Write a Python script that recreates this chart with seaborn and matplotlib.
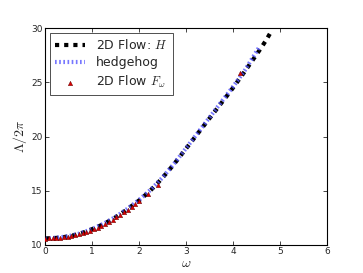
import numpy as np
import pandas as pd
import matplotlib
matplotlib.use("Agg")
import matplotlib.pyplot as plt
import seaborn as sns

# 2D Flow: H (black dotted)
omega_h = [0.0, 0.1, 0.2, 0.3, 0.4, 0.5, 0.6, 0.7, 0.8, 0.9,
           1.0, 1.1, 1.2, 1.3, 1.4, 1.5, 1.6, 1.7, 1.8, 1.9,
           2.0, 2.1, 2.2, 2.3, 2.4, 2.5, 2.6, 2.7, 2.8, 2.9,
           3.0, 3.1, 3.2, 3.3, 3.4, 3.5, 3.6, 3.7, 3.8, 3.9,
           4.0, 4.1, 4.2, 4.3, 4.4, 4.5, 4.6, 4.7, 4.8, 4.83]
lam_h = [10.60, 10.61, 10.63, 10.67, 10.72, 10.79, 10.88, 10.99, 11.12, 11.28,
         11.45, 11.63, 11.83, 12.05, 12.29, 12.55, 12.83, 13.13, 13.45, 13.77,
         14.10, 14.46, 14.85, 15.27, 15.72, 16.20, 16.70, 17.22, 17.76, 18.32,
         18.88, 19.44, 20.00, 20.56, 21.12, 21.68, 22.24, 22.80, 23.36, 23.92,
         24.50, 25.10, 25.70, 26.32, 26.94, 27.56, 28.20, 28.86, 29.60, 29.80]

# hedgehog (blue dotted)
omega_hh = [0.0, 0.25, 0.5, 0.75, 1.0, 1.25, 1.5, 1.75, 2.0, 2.25,
            2.5, 2.75, 3.0, 3.25, 3.5, 3.75, 4.0, 4.25, 4.55]
lam_hh = [10.60, 10.66, 10.80, 11.06, 11.46, 11.96, 12.58, 13.32, 14.15, 15.10,
          16.22, 17.52, 18.92, 20.34, 21.76, 23.18, 24.60, 26.10, 28.20]

# 2D Flow F_omega (red triangles)
omega_f = [0.0, 0.08, 0.16, 0.24, 0.32, 0.4, 0.48, 0.56, 0.64, 0.72, 0.8, 0.88,
           0.96, 1.04, 1.12, 1.2, 1.28, 1.36, 1.44, 1.52, 1.6, 1.68, 1.76,
           1.84, 1.92, 2.0, 2.2, 2.4, 4.15]
lam_f = [10.58, 10.59, 10.60, 10.62, 10.65, 10.69, 10.74, 10.80, 10.87, 10.96,
         11.06, 11.18, 11.31, 11.45, 11.60, 11.77, 11.94, 12.13, 12.33, 12.54,
         12.77, 13.01, 13.26, 13.52, 13.79, 14.06, 14.70, 15.55, 25.85]

sns.set_style("ticks")
plt.rcParams["font.family"] = ["DejaVu Sans"]
plt.rcParams["mathtext.fontset"] = "cm"
plt.rcParams["xtick.direction"] = "in"
plt.rcParams["ytick.direction"] = "in"
plt.rcParams["xtick.top"] = True
plt.rcParams["ytick.right"] = True

fig = plt.figure(figsize=(3.63, 2.73), dpi=100)
ax = fig.add_axes([0.124, 0.103, 0.777, 0.794])

df_h = pd.DataFrame({"omega": omega_h, "lam": lam_h})
df_hh = pd.DataFrame({"omega": omega_hh, "lam": lam_hh})
df_f = pd.DataFrame({"omega": omega_f, "lam": lam_f})

sns.lineplot(data=df_h, x="omega", y="lam", ax=ax, color="black",
             linewidth=3, label=r"2D Flow: $H$", sort=False)
ax.lines[-1].set_linestyle((0, (1, 1.2)))
sns.lineplot(data=df_hh, x="omega", y="lam", ax=ax, color="#5555ff",
             linewidth=3, label="hedgehog", sort=False, alpha=0.8)
ax.lines[-1].set_linestyle((0, (0.4, 0.6)))
sns.scatterplot(data=df_f, x="omega", y="lam", ax=ax, marker="^", color="#dd0000",
                edgecolor="#550000", linewidth=0.3, s=10, label=r"2D Flow $F_\omega$", zorder=3)

ax.set_xlim(0, 6)
ax.set_ylim(10, 30)
ax.set_xticks([0, 1, 2, 3, 4, 5, 6])
ax.set_yticks([10, 15, 20, 25, 30])
ax.tick_params(labelsize=6.5, length=3, width=0.6, pad=1.5)
ax.set_xlabel(r"$\omega$", fontsize=10, labelpad=0)
ax.set_ylabel(r"$\Lambda/2\pi$", fontsize=10, labelpad=2)
for s in ax.spines.values():
    s.set_linewidth(0.8)
    s.set_color("black")

leg = ax.legend(loc="upper left", fontsize=9, frameon=True, fancybox=False,
                handlelength=2.4, borderpad=0.4, labelspacing=0.35,
                handletextpad=0.9, borderaxespad=0.4)
leg.get_frame().set_edgecolor("black")
leg.get_frame().set_linewidth(0.6)

fig.savefig("out.png", dpi=100)
